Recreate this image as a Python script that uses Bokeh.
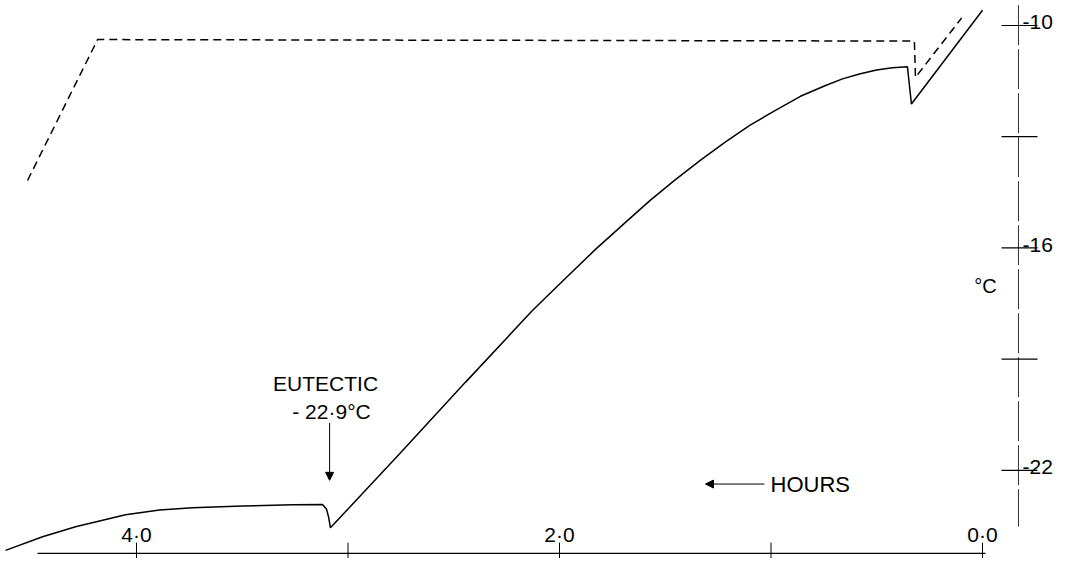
from bokeh.plotting import figure
from bokeh.models import Range1d, Arrow, NormalHead
from bokeh.core.properties import value
from bokeh.embed import file_html
from bokeh.resources import INLINE

# ---------------- data (hours before end, temperature in degC) ----------------
solid_hours = [4.619, 4.444, 4.288, 4.052, 3.891, 3.735, 3.499, 3.262, 3.121,
               3.102, 3.092, 3.083, 2.757, 2.444, 2.128, 1.986, 1.830, 1.688,
               1.570, 1.452, 1.333, 1.215, 1.097, 0.979, 0.861, 0.742, 0.662,
               0.582, 0.501, 0.426, 0.355, 0.336, 0.0]
solid_temp = [-24.16, -23.79, -23.52, -23.20, -23.07, -23.01, -22.96, -22.93, -22.92,
              -23.04, -23.25, -23.55, -21.56, -19.62, -17.69, -16.90, -16.04, -15.31,
              -14.71, -14.16, -13.63, -13.14, -12.68, -12.29, -11.91, -11.62, -11.44,
              -11.31, -11.20, -11.14, -11.11, -12.12, -9.59]

dashed_hours = [4.515, 4.184, 0.322, 0.317, 0.099]
dashed_temp = [-14.18, -10.38, -10.42, -11.40, -9.80]

x_ticks = [4, 3, 2, 1, 0]
x_label_vals = [4, 2, 0]
x_labels = ["4·0", "2·0", "0·0"]

y_ticks = [-10, -13, -16, -19, -22]
y_label_vals = [-10, -16, -22]
y_labels = ["-10", "-16", "-22"]

eutectic_hours = 3.087
eutectic_text = ["EUTECTIC", "- 22·9°C"]

# ---------------- layout constants ----------------
FONT = value("Liberation Sans")
X_AXIS_T = -24.24          # temperature level where the hour axis is drawn
Y_AXIS_H = -0.170          # hour position where the temperature axis is drawn

p = figure(width=1059, height=558,
           x_range=Range1d(4.643, -0.364), y_range=Range1d(-24.378, -9.326),
           x_axis_type=None, y_axis_type=None,
           toolbar_location=None, output_backend="svg",
           min_border=0, min_border_left=0, min_border_right=0,
           min_border_top=0, min_border_bottom=0)
p.grid.visible = False
p.outline_line_color = None
p.background_fill_color = "white"
p.border_fill_color = "white"

# curves
p.line(solid_hours, solid_temp, line_color="black", line_width=1.5)
p.line(dashed_hours, dashed_temp, line_color="black", line_width=1.5, line_dash="8 5")

# hour axis
p.segment(x0=[4.468], y0=[X_AXIS_T], x1=[-0.014], y1=[X_AXIS_T],
          line_color="black", line_width=1.4)
p.segment(x0=x_ticks, y0=[-23.95] * len(x_ticks), x1=x_ticks, y1=[-24.40] * len(x_ticks),
          line_color="black", line_width=1)
p.text(x=x_label_vals, y=[-23.73] * len(x_label_vals), text=x_labels,
       text_font=FONT, text_font_size="21px", text_align="center",
       text_baseline="middle", text_color="black")

# temperature axis
p.segment(x0=[Y_AXIS_H], y0=[-9.45], x1=[Y_AXIS_H], y1=[-23.52],
          line_color="#333333", line_width=1, line_dash="40 4")
p.segment(x0=[-0.0898] * len(y_ticks), y0=y_ticks, x1=[-0.260] * len(y_ticks), y1=y_ticks,
          line_color="black", line_width=1.2)
p.text(x=[-0.189] * len(y_label_vals), y=y_label_vals, text=y_labels,
       text_font=FONT, text_font_size="21px", text_align="left",
       text_baseline="alphabetic", y_offset=-3, text_color="black")
p.text(x=[-0.014], y=[-17.03], text=["°C"], text_font=FONT, text_font_size="20px",
       text_align="center", text_baseline="middle", text_color="black")

# eutectic annotation
p.text(x=[3.106, 3.078], y=[-19.65, -20.42], text=eutectic_text,
       text_font=FONT, text_font_size="21px", text_align="center",
       text_baseline="middle", text_color="black")
p.add_layout(Arrow(end=NormalHead(size=8, fill_color="black", line_color="black"),
                   x_start=eutectic_hours, y_start=-20.72,
                   x_end=eutectic_hours, y_end=-22.27,
                   line_color="black", line_width=1))

# hours direction annotation
p.add_layout(Arrow(end=NormalHead(size=8, fill_color="black", line_color="black"),
                   x_start=1.031, y_start=-22.37, x_end=1.310, y_end=-22.37,
                   line_color="black", line_width=1))
p.text(x=[1.002], y=[-22.37], text=["HOURS"], text_font=FONT, text_font_size="22px",
       text_align="left", text_baseline="middle", text_color="black")

open("out.html", "w").write(file_html(p, INLINE))
